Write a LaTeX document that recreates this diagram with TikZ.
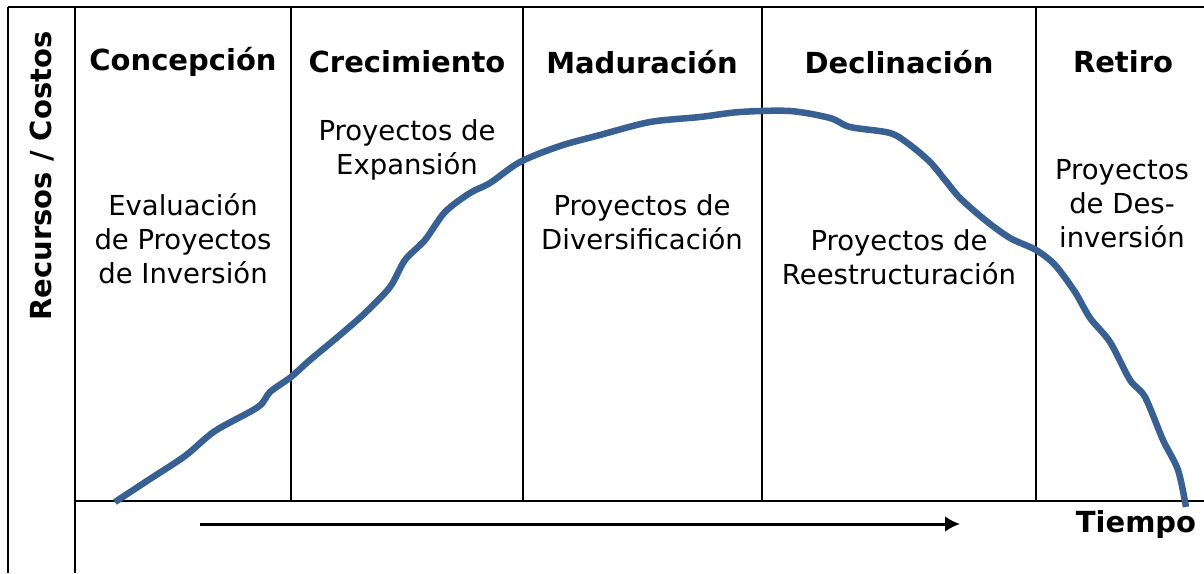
\documentclass[tikz,border=0pt]{standalone}
\usepackage{fontspec}
\setmainfont{DejaVu Sans}
\usetikzlibrary{arrows.meta}
\definecolor{curveblue}{RGB}{56,96,146}
\tikzset{
  frame/.style={line width=2.3pt, black},
  head/.style={font=\fontsize{29}{35}\selectfont\bfseries, inner sep=0pt, anchor=center},
  body/.style={font=\fontsize{27.5}{34}\selectfont, align=center, inner sep=0pt, anchor=center},
  lifecurve/.style={line width=6.5pt, curveblue, line cap=butt, line join=round},
  timearrow/.style={line width=3pt, -{Latex[length=15pt,width=16pt]}}
}
\begin{document}
\begin{tikzpicture}[x=1pt,y=-1pt]
\useasboundingbox (0,0) rectangle (1204,573);
% frame
\draw[frame] (8,7) -- (1204,7);
\draw[frame] (8,7) -- (8,573);
\draw[frame] (75,7) -- (75,573);
\draw[frame] (75,501) -- (1204,501);
\foreach \xx in {291,523,762,1036} \draw[frame] (\xx,7) -- (\xx,501);
% headers
\node[head] (h1) at (183,62) {Concepción};
\node[head] (h2) at (407,62) {Crecimiento};
\node[head] (h3) at (642,62) {Maduración};
\node[head] (h4) at (899,62) {Declinación};
\node[head] (h5) at (1123,62) {Retiro};
\node[head, rotate=90] (ylab) at (42,176) {Recursos / Costos};
% bodies
\node[body] (b1) at (183,239) {Evaluación\\de Proyectos\\de Inversión};
\node[body] (b2) at (407,150) {Proyectos de\\Expansión};
\node[body] (b3) at (642,222) {Proyectos de\\Diversificación};
\node[body] (b4) at (899,257) {Proyectos de\\Reestructuración};
\node[body] (b5) at (1122,204) {Proyectos\\de Des-\\inversión};
% curve
\draw[lifecurve] plot[smooth, tension=0.5] coordinates {
 (115,502) (150,479) (185,456) (215,431) (258,407) (270,392) (291,377)
 (310,360) (340,335) (365,313) (390,287) (405,260) (425,240) (445,212)
 (470,193) (490,183) (520,162) (560,146) (600,135) (650,122) (700,117)
 (740,112) (790,111) (830,118) (850,127) (890,133) (910,145) (930,162)
 (945,180) (960,198) (985,220) (1010,238) (1036,250) (1055,265) (1075,292)
 (1090,318) (1110,342) (1130,380) (1145,397) (1163,440) (1178,470) (1186,507)};
% time axis
\coordinate (t0) at (200,524);
\coordinate (t1) at (960,524);
\draw[timearrow] (t0) -- (t1);
\node[head] (tl) at (1136,524) {Tiempo};
\end{tikzpicture}
\end{document}
